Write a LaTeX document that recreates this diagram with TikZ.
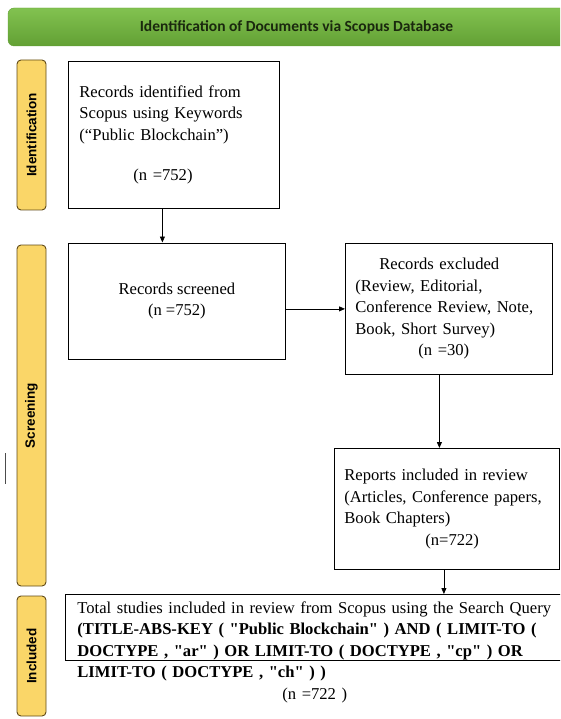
\documentclass[tikz,border=0pt]{standalone}
\usepackage{fontspec}
\setmainfont{Liberation Serif}
\newfontfamily\headfont{Carlito}
\newfontfamily\sidefont{Liberation Sans}
\usetikzlibrary{arrows.meta}
\definecolor{headlight}{RGB}{130,194,80}
\definecolor{headdark}{RGB}{98,160,52}
\definecolor{headtext}{RGB}{26,40,14}
\definecolor{sideyellow}{RGB}{250,214,104}
\definecolor{sideedge}{RGB}{96,74,24}
\newcommand{\qt}{\textquotedbl}

\begin{document}
\begin{tikzpicture}[x=1pt,y=-1pt,
	every node/.style={font=\fontsize{16.6}{21.5}\selectfont},
	head/.style={rounded corners=6pt, top color=headlight, bottom color=headdark, draw=headdark, minimum width=577pt, minimum height=38pt, text=headtext, font=\headfont\bfseries\fontsize{15.5}{18}\selectfont},
	side/.style={draw=sideedge, fill=sideyellow, rounded corners=4pt, line width=0.9pt, rotate=90, minimum height=29pt, inner sep=0pt, font=\sidefont\bfseries\fontsize{13.5}{16}\selectfont},
	box/.style={draw, line width=0.8pt, anchor=north west, align=left},
	arr/.style={-{Triangle[length=6pt,width=5pt]}, line width=0.8pt}]
	\path[use as bounding box, clip] (0,0) rectangle (560,719);
	\node[head] (title) at (296.5,27) {Identification of Documents via Scopus Database};
	% stage labels
	\node[side, minimum width=150pt] (identside) at (31.5,135) {Identification};
	\node[side, minimum width=341pt] (screenside) at (31.5,415.5) {Screening};
	\node[side, minimum width=120pt] (inclside) at (31.5,656) {Included};
	% flow boxes
	\node[box, minimum width=211pt, minimum height=147pt, text width=189pt, inner xsep=11pt] (found) at (68,61) {Records identified from\\Scopus using Keywords\\(“Public Blockchain”)\\[19pt]\hspace*{54pt}(n =752)};
	\node[box, minimum width=217pt, minimum height=116.5pt, align=center] (screened) at (68,242.5) {Records screened\\(n =752)};
	\node[box, minimum width=207pt, minimum height=131pt, text width=187pt, inner xsep=10pt] (excluded) at (345,243) {\hspace*{24pt}Records excluded\\(Review, Editorial,\\Conference Review, Note,\\Book, Short Survey)\\\hspace*{63pt}(n =30)};
	\node[box, minimum width=225pt, minimum height=121pt, text width=205pt, inner xsep=10pt] (reports) at (334,448) {Reports included in review\\(Articles, Conference papers,\\Book Chapters)\\\hspace*{81pt}(n=722)};
	\node[box, text width=510pt, inner xsep=12pt, inner ysep=7pt, text depth=40pt] (studies) at (65,594) {Total studies included in review from Scopus using the Search Query\\\textbf{(TITLE-ABS-KEY ( \qt Public Blockchain\qt{} ) AND ( LIMIT-TO (}\\\textbf{DOCTYPE , \qt ar\qt{} ) OR LIMIT-TO ( DOCTYPE , \qt cp\qt{} ) OR}\\\textbf{LIMIT-TO ( DOCTYPE , \qt ch\qt{} ) )}\\\hspace*{205pt}(n =722 )};
	% connectors
	\draw[arr] ([xshift=-11.5pt]found.south) -- ([xshift=-11.5pt]found.south |- screened.north);
	\draw[arr] (screened.east |- excluded.west) -- (excluded.west);
	\draw[arr] ([xshift=-9.5pt]excluded.south) -- ([xshift=-9.5pt]excluded.south |- reports.north);
	\draw[arr] ([xshift=-3pt]reports.south) -- ([xshift=-3pt]reports.south |- studies.north);
	\draw[line width=1pt, black!70] (5.5,453) -- (5.5,484);
\end{tikzpicture}
\end{document}
